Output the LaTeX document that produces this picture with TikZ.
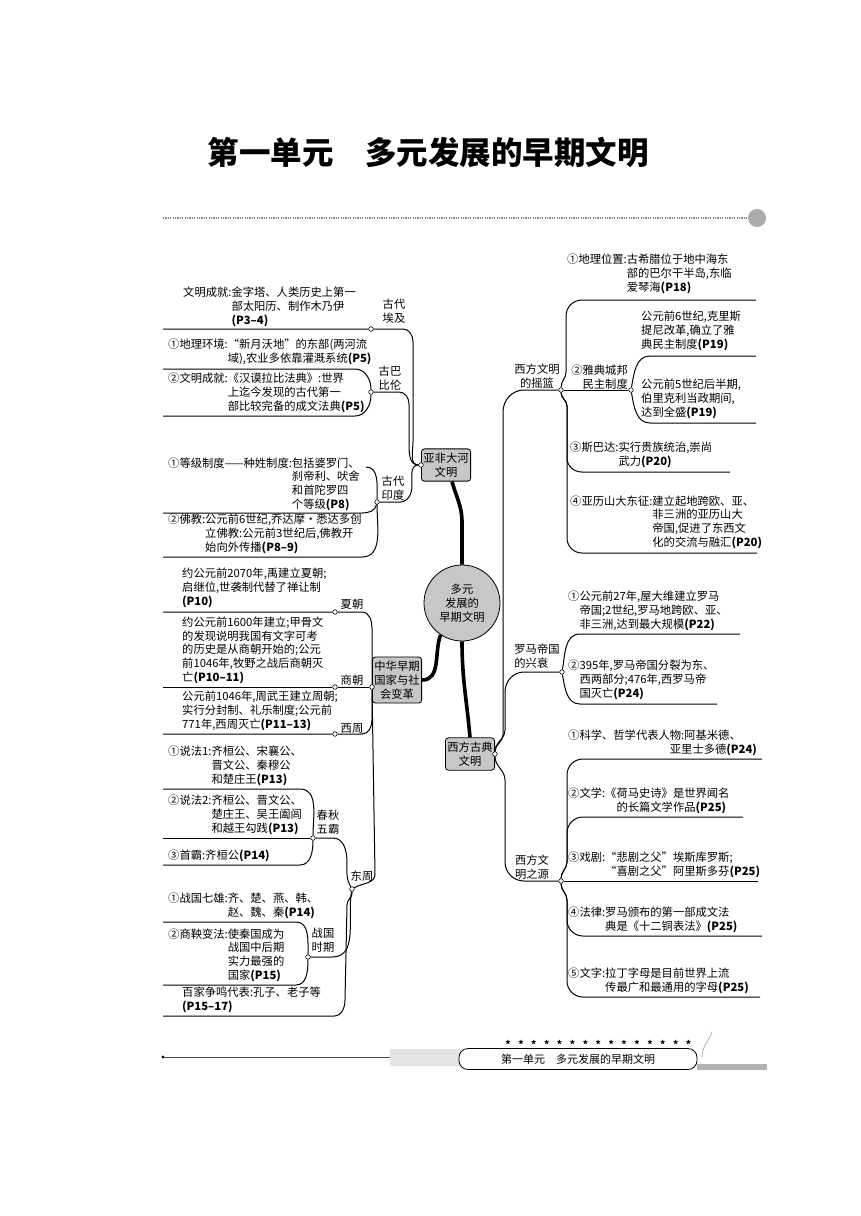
\documentclass[tikz,border=0pt]{standalone}
\usepackage{fontspec}
\setmainfont{Noto Sans CJK SC}
\usepackage{tikz}
\usetikzlibrary{positioning}
\definecolor{boxgray}{gray}{0.78}
\newcommand{\pg}[1]{\textbf{#1}}
\newcommand{\ind}[1]{\hphantom{#1}}
\tikzset{
  leaf/.style={align=left,inner sep=0pt,anchor=south west,font=\fontsize{11.3}{13.8}\selectfont},
  lab/.style={align=center,inner sep=0pt,font=\fontsize{11.3}{13.8}\selectfont},
  topic/.style={draw,line width=0.8pt,fill=boxgray,rounded corners=3pt,align=center,
                inner xsep=2pt,inner ysep=4pt,font=\fontsize{11.3}{13.8}\selectfont},
  dot/.style={circle,draw,fill=white,inner sep=0pt,minimum size=4.6pt,line width=0.6pt},
  link/.style={line width=1pt},
  trunk/.style={line width=3.6pt}
}

\begin{document}
\begin{tikzpicture}[x=1pt,y=-1pt]
  \useasboundingbox (0,0) rectangle (860,1216);
  % heading
  \node[font=\fontsize{31.5}{31.5}\selectfont\bfseries] (title) at (428,152) {第一单元\hspace{1em}多元发展的早期文明};
  \draw[gray,line width=1.2pt,dash pattern=on 1.2pt off 1.2pt] (163,218) -- (748,218);
  \node[circle,fill=gray!65,minimum size=18pt,inner sep=0pt] (orn) at (757,218) {};

  % centre
  \node[circle,draw,line width=0.8pt,fill=boxgray,minimum size=76pt,inner sep=0pt,align=center,
        font=\fontsize{11.3}{13.8}\selectfont] (hub) at (462,603) {多元\\发展的\\早期文明};
  \node[topic] (yafei) at (446,465) {亚非大河\\文明};
  \node[topic] (zh) at (397,680) {中华早期\\国家与社\\会变革};
  \node[topic] (xf) at (470,754) {西方古典\\文明};
  \draw[trunk] (hub.north) -- (462,522) to[out=90,in=-75] (yafei.-70);
  \draw[trunk] (hub.236) to[out=-110,in=0] (zh.east);
  \draw[trunk] (hub.south) to[out=-90,in=95] (xf.north);

  % 亚非大河文明
  \node[dot] (yfj) at (yafei.west) {};
  \node[leaf] (egyt) at (183,327) {文明成就:金字塔、人类历史上第一\\\ind{文明成就:}部太阳历、制作木乃伊\\\ind{文明成就:}\pg{(P3–4)}};
  \node[lab] (egyl) at (394,311) {古代\\埃及};
  \node[dot] (egy) at (371,329) {};
  \node[leaf] (babt1) at (168,365) {①地理环境:“新月沃地”的东部(两河流\\\ind{①地理环境:}域),农业多依靠灌溉系统\pg{(P5)}};
  \node[leaf] (babt2) at (168,413) {②文明成就:《汉谟拉比法典》:世界\\\ind{②文明成就:}上迄今发现的古代第一\\\ind{②文明成就:}部比较完备的成文法典\pg{(P5)}};
  \node[lab] (babl) at (390,378) {古巴\\比伦};
  \node[dot] (bab) at (371,392) {};
  \node[leaf] (indt1) at (168,511) {①等级制度——种姓制度:包括婆罗门、\\\ind{①等级制度——种姓制度:}刹帝利、吠舍\\\ind{①等级制度——种姓制度:}和首陀罗四\\\ind{①等级制度——种姓制度:}个等级\pg{(P8)}};
  \node[leaf] (indt2) at (168,554) {②佛教:公元前6世纪,乔达摩·悉达多创\\\ind{②佛教:}立佛教:公元前3世纪后,佛教开\\\ind{②佛教:}始向外传播\pg{(P8–9)}};
  \node[lab] (indl) at (393,488) {古代\\印度};
  \node[dot] (ind) at (377,502) {};
  \coordinate (indtop) at (366,467);

  \draw[link] (163,329) -- (egy) -- (403,329) to[out=0,in=90] (413,342) -- (413,442) to[out=-90,in=180] (yfj);
  \draw[link] (163,369) -- (355,369) to[out=0,in=90] (bab);
  \draw[link] (163,416) -- (355,416) to[out=0,in=-90] (bab);
  \draw[link] (bab) -- (399,392) to[out=0,in=90] (409,404) -- (409,442) to[out=-90,in=180] (yfj);
  \draw[link] (indtop) to[out=0,in=90] (ind);
  \draw[link] (163,513) -- (362,513) to[out=0,in=-100] (ind);
  \draw[link] (163,557) -- (362,557) to[out=0,in=-90] (ind);
  \draw[link] (ind) -- (400,502) to[out=0,in=-90] (412,486) to[out=90,in=180] (yfj);

  % 中华早期国家与社会变革
  \node[dot] (zhj) at (372,687) {};
  \node[leaf] (xiat) at (182,608) {约公元前2070年,禹建立夏朝;\\启继位,世袭制代替了禅让制\\\pg{(P10)}};
  \node[lab] (xial) at (352,604) {夏朝};
  \node[dot] (xia) at (335,612) {};
  \node[leaf] (shangt) at (182,684) {约公元前1600年建立;甲骨文\\的发现说明我国有文字可考\\的历史是从商朝开始的;公元\\前1046年,牧野之战后商朝灭\\亡\pg{(P10–11)}};
  \node[lab] (shangl) at (352,680) {商朝};
  \node[dot] (shang) at (335,687) {};
  \node[leaf] (xzt) at (182,731) {公元前1046年,周武王建立周朝;\\实行分封制、礼乐制度;公元前\\771年,西周灭亡\pg{(P11–13)}};
  \node[lab] (xzl) at (352,729) {西周};
  \node[dot] (xz) at (335,734) {};
  \node[lab] (dzl) at (362,876) {东周};
  \node[dot] (dz) at (352,889) {};
  \node[leaf] (cq1) at (168,786) {①说法1:齐桓公、宋襄公、\\\ind{①说法1:}晋文公、秦穆公\\\ind{①说法1:}和楚庄王\pg{(P13)}};
  \node[leaf] (cq2) at (168,835) {②说法2:齐桓公、晋文公、\\\ind{②说法2:}楚庄王、吴王阖闾\\\ind{②说法2:}和越王勾践\pg{(P13)}};
  \node[leaf] (cq3) at (168,862) {③首霸:齐桓公\pg{(P14)}};
  \node[lab] (cql) at (328,822) {春秋\\五霸};
  \node[dot] (cq) at (313,838) {};
  \node[leaf] (zg1) at (168,919) {①战国七雄:齐、楚、燕、韩、\\\ind{①战国七雄:}赵、魏、秦\pg{(P14)}};
  \node[leaf] (zg2) at (168,982) {②商鞅变法:使秦国成为\\\ind{②商鞅变法:}战国中后期\\\ind{②商鞅变法:}实力最强的\\\ind{②商鞅变法:}国家\pg{(P15)}};
  \node[lab] (zgl) at (323,940) {战国\\时期};
  \node[dot] (zg) at (308,957) {};
  \node[leaf] (bj) at (182,1013) {百家争鸣代表:孔子、老子等\\\pg{(P15–17)}};

  \draw[link] (163,612) -- (xia) -- (362,612) to[out=0,in=90] (372,628) -- (zhj);
  \draw[link] (163,687) -- (shang) -- (zhj);
  \draw[link] (163,734) -- (xz) -- (362,734) to[out=0,in=-90] (372,720) -- (zhj);
  \draw[link] (zhj) -- (375,874) to[out=-90,in=30] (dz);
  \draw[link] (163,789) -- (300,789) to[out=0,in=90] (cq);
  \draw[link] (163,838) -- (cq);
  \draw[link] (163,865) -- (300,865) to[out=0,in=-90] (cq);
  \draw[link] (cq) -- (333,838) to[out=0,in=90] (347,862) to[out=-90,in=120] (dz);
  \draw[link] (163,922) -- (296,922) to[out=0,in=90] (zg);
  \draw[link] (163,985) -- (296,985) to[out=0,in=-90] (zg);
  \draw[link] (zg) -- (332,957) to[out=0,in=-100] (dz);
  \draw[link] (163,1016) -- (334,1016) to[out=0,in=-90] (345,1000) -- (347,905) to[out=90,in=-85] (dz);

  % 西方古典文明
  \node[dot] (xfj) at (xf.east) {};
  \node[lab] (yll) at (537,376) {西方文明\\的摇篮};
  \node[dot] (yl) at (561,390) {};
  \node[leaf] (yl1) at (567,294) {①地理位置:古希腊位于地中海东\\\ind{①地理位置:}部的巴尔干半岛,东临\\\ind{①地理位置:}爱琴海\pg{(P18)}};
  \node[lab,align=right,anchor=east] (ydl) at (628,377) {②雅典城邦\\民主制度};
  \node[dot] (yd) at (631,390) {};
  \node[leaf] (yd1) at (641,351) {公元前6世纪,克里斯\\提尼改革,确立了雅\\典民主制度\pg{(P19)}};
  \node[leaf] (yd2) at (641,419) {公元前5世纪后半期,\\伯里克利当政期间,\\达到全盛\pg{(P19)}};
  \node[leaf] (sp) at (570,468) {③斯巴达:实行贵族统治,崇尚\\\ind{③斯巴达:}武力\pg{(P20)}};
  \node[leaf] (ax) at (570,549) {④亚历山大东征:建立起地跨欧、亚、\\\ind{④亚历山大东征:}非三洲的亚历山大\\\ind{④亚历山大东征:}帝国,促进了东西文\\\ind{④亚历山大东征:}化的交流与融汇\pg{(P20)}};
  \node[lab,align=left] (lml) at (537,656) {罗马帝国\\的兴衰};
  \node[dot] (lm) at (562,672) {};
  \node[leaf] (lm1) at (568,631) {①公元前27年,屋大维建立罗马\\\ind{①}帝国;2世纪,罗马地跨欧、亚、\\\ind{①}非三洲,达到最大规模\pg{(P22)}};
  \node[leaf] (lm2) at (568,700) {②395年,罗马帝国分裂为东、\\\ind{②}西两部分;476年,西罗马帝\\\ind{②}国灭亡\pg{(P24)}};
  \node[lab,align=left] (yyl) at (532,867) {西方文\\明之源};
  \node[dot] (yy) at (561,881) {};
  \node[leaf] (yy1) at (568,756) {①科学、哲学代表人物:阿基米德、\\\ind{①科学、哲学代表人}亚里士多德\pg{(P24)}};
  \node[leaf] (yy2) at (568,814) {②文学:《荷马史诗》是世界闻名\\\ind{②文学:《}的长篇文学作品\pg{(P25)}};
  \node[leaf] (yy3) at (568,878) {③戏剧:“悲剧之父”埃斯库罗斯;\\\ind{③戏剧:}“喜剧之父”阿里斯多芬\pg{(P25)}};
  \node[leaf] (yy4) at (568,933) {④法律:罗马颁布的第一部成文法\\\ind{④法律:}典是《十二铜表法》\pg{(P25)}};
  \node[leaf] (yy5) at (568,994) {⑤文字:拉丁字母是目前世界上流\\\ind{⑤文字:}传最广和最通用的字母\pg{(P25)}};

  \draw[link] (xfj) to[out=90,in=-90] (503,735) -- (503,412) to[out=90,in=180] (524,390) -- (yl);
  \draw[link] (xfj) to[out=90,in=-90] (505,730) -- (505,692) to[out=90,in=180] (524,672) -- (lm);
  \draw[link] (xfj) to[out=-90,in=90] (505,780) -- (505,862) to[out=-90,in=180] (524,881) -- (yy);
  \draw[link] (yl) to[out=90,in=-90] (566,372) -- (566,316) to[out=90,in=180] (582,300) -- (756,300);
  \draw[link] (yl) -- (yd);
  \draw[link] (yd) to[out=80,in=180] (650,356) -- (756,356);
  \draw[link] (yd) to[out=-80,in=180] (650,423) -- (756,423);
  \draw[link] (yl) to[out=-90,in=90] (567,406) -- (567,458) to[out=-90,in=180] (582,472) -- (730,472);
  \draw[link] (yl) to[out=-90,in=90] (567,406) -- (567,538) to[out=-90,in=180] (582,553) -- (757,553);
  \draw[link] (lm) to[out=80,in=180] (580,634) -- (740,634);
  \draw[link] (lm) to[out=-80,in=180] (580,704) -- (717,704);
  \draw[link] (yy) to[out=90,in=-90] (567,862) -- (567,775) to[out=90,in=180] (583,759) -- (762,759);
  \draw[link] (yy) to[out=90,in=-90] (567,862) -- (567,833) to[out=90,in=180] (583,817) -- (743,817);
  \draw[link] (yy) -- (758,881);
  \draw[link] (yy) to[out=-90,in=90] (567,900) -- (567,920) to[out=-90,in=180] (583,936) -- (762,936);
  \draw[link] (yy) to[out=-90,in=90] (567,900) -- (567,981) to[out=-90,in=180] (583,997) -- (760,997);

  % footer
  \fill (163,1057) circle (1.6pt);
  \draw[line width=0.8pt,gray!60!black] (163,1057) -- (390,1057);
  \fill[gray!22] (390,1049) rectangle (462,1066);
  \fill[gray!60] (697,1064) rectangle (767,1070);
  \node[draw,fill=white,line width=0.8pt,rounded corners=9pt,minimum width=238pt,minimum height=21pt,
        inner sep=0pt,font=\fontsize{11}{11}\selectfont] (foot) at (578,1059) {第一单元\hspace{1em}多元发展的早期文明};
  \foreach \i in {0,...,14}
    \node[inner sep=0pt,font=\fontsize{10}{10}\selectfont\bfseries] (star\i) at (508+12.9*\i,1044) {*};
  \draw[gray!55,line width=1pt] (702,1057) to[out=90,in=-110] (712,1032);
\end{tikzpicture}
\end{document}
